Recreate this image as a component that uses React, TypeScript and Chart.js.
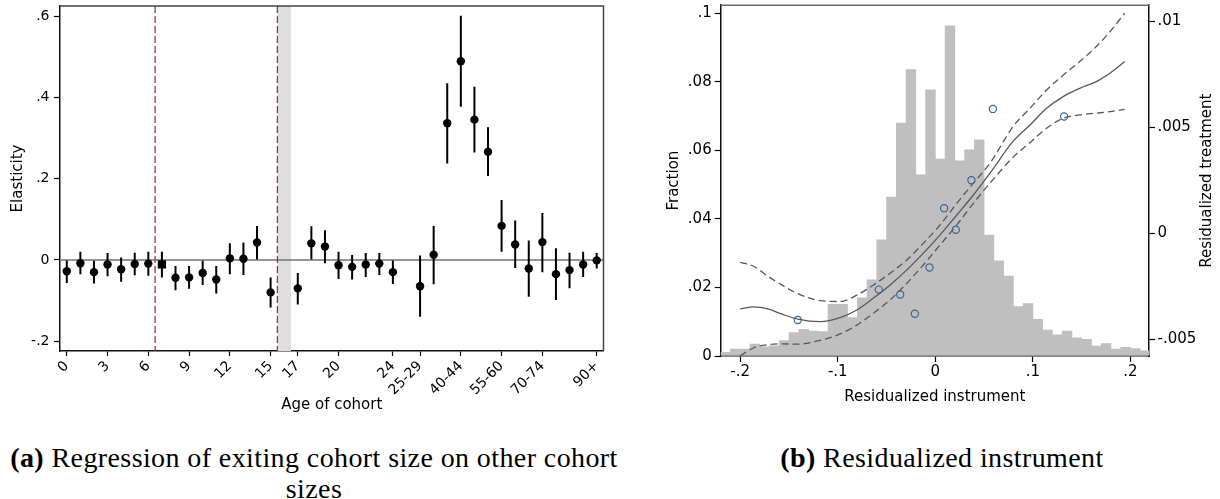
import { useEffect, useRef } from "react"
import { Chart, registerables } from "chart.js"

Chart.register(...registerables)

Chart.defaults.font.family = "'DejaVu Sans', sans-serif"
Chart.defaults.color = "#000"

// ---------- panel (a): elasticity by age of cohort ----------
// x position of each estimate (16 = exiting cohort, 25 = spacer between ages and age groups)
const cohortPos = [
  0, 1, 2, 3, 4, 5, 6, 7, 8, 9, 10, 11, 12, 13, 14, 15,
  17, 18, 19, 20, 21, 22, 23, 24,
  26, 27, 28, 29, 30, 31, 32, 33, 34, 35, 36, 37, 38, 39,
]
const elasticity = [
  -0.028, -0.008, -0.03, -0.011, -0.023, -0.01, -0.009, -0.011, -0.044, -0.043, -0.032, -0.048, 0.004, 0.003, 0.043, -0.08,
  -0.07, 0.041, 0.033, -0.013, -0.017, -0.011, -0.009, -0.03,
  -0.065, 0.013, 0.337, 0.49, 0.346, 0.267, 0.084, 0.038, -0.021, 0.044, -0.035, -0.025, -0.011, -0.001,
]
const ciLow = [
  -0.057, -0.035, -0.058, -0.04, -0.054, -0.038, -0.039, -0.043, -0.075, -0.071, -0.062, -0.083, -0.035, -0.037, 0.001, -0.117,
  -0.11, 0.0, -0.008, -0.047, -0.048, -0.042, -0.037, -0.059,
  -0.14, -0.06, 0.238, 0.378, 0.265, 0.207, 0.02, -0.02, -0.091, -0.03, -0.099, -0.07, -0.042, -0.021,
]
const ciHigh = [
  0.0, 0.02, -0.002, 0.017, 0.006, 0.018, 0.02, 0.02, -0.015, -0.015, -0.002, -0.015, 0.041, 0.043, 0.084, -0.043,
  -0.032, 0.083, 0.073, 0.02, 0.012, 0.017, 0.017, 0.0,
  0.011, 0.084, 0.436, 0.602, 0.427, 0.327, 0.148, 0.097, 0.048, 0.116, 0.029, 0.018, 0.02, 0.017,
]
const baseCohort = 7 // drawn as a square
const ageTickPos = [0, 3, 6, 9, 12, 15, 17, 20, 24, 26, 29, 32, 35, 39]
const ageTickText = ["0", "3", "6", "9", "12", "15", "17", "20", "24", "25-29", "40-44", "55-60", "70-74", "90+"]
const elasticityTicks = [-0.2, 0, 0.2, 0.4, 0.6]
const dashedAt = [6.5, 15.5]
const shadeFrom = 15.5
const shadeTo = 16.5

// ---------- panel (b): residualized instrument ----------
const binCenters = [
  -0.215, -0.205, -0.195, -0.185, -0.175, -0.165, -0.155, -0.145, -0.135, -0.125, -0.115,
  -0.105, -0.095, -0.085, -0.075, -0.065, -0.055, -0.045, -0.035, -0.025, -0.015, -0.005,
  0.005, 0.015, 0.025, 0.035, 0.045, 0.055, 0.065, 0.075, 0.085, 0.095, 0.105,
  0.115, 0.125, 0.135, 0.145, 0.155, 0.165, 0.175, 0.185, 0.195, 0.205, 0.215,
]
const fraction = [
  0.0011, 0.002, 0.002, 0.0035, 0.0027, 0.003, 0.0045, 0.0068, 0.0078, 0.0073, 0.0071,
  0.0151, 0.0151, 0.0112, 0.017, 0.0222, 0.0339, 0.0464, 0.068, 0.0836, 0.0529, 0.0777,
  0.0575, 0.0964, 0.057, 0.0602, 0.0631, 0.0353, 0.0278, 0.0233, 0.0144, 0.0153, 0.0107,
  0.0076, 0.0062, 0.0073, 0.0053, 0.0049, 0.0029, 0.0036, 0.002, 0.0025, 0.0022, 0.0015,
]
const binnedX = [-0.141, -0.058, -0.036, -0.021, -0.006, 0.009, 0.021, 0.037, 0.059, 0.132]
const binnedY = [-0.00409, -0.00266, -0.00289, -0.0038, -0.00162, 0.00118, 0.00016, 0.0025, 0.00586, 0.0055]
const fitX = [
  -0.2, -0.186, -0.171, -0.157, -0.141, -0.118, -0.0975, -0.08, -0.0634, -0.0463, -0.0292, -0.0122,
  0.0049, 0.022, 0.039, 0.056, 0.08, 0.097, 0.114, 0.131, 0.148, 0.165, 0.179, 0.194,
]
const fitMid = [
  -0.00357, -0.00347, -0.00358, -0.00382, -0.00405, -0.00417, -0.00398, -0.00361, -0.00306, -0.00244, -0.00173, -0.00094,
  -0.00008, 0.00086, 0.0018, 0.00283, 0.00435, 0.0051, 0.00589, 0.00644, 0.00683, 0.00715, 0.00754, 0.00809,
]
const fitHigh = [
  -0.00137, -0.00157, -0.00205, -0.00245, -0.00285, -0.00318, -0.00322, -0.00291, -0.00244, -0.00189, -0.00126, -0.00047,
  0.00039, 0.00141, 0.00236, 0.0033, 0.00505, 0.00589, 0.00675, 0.00745, 0.00809, 0.0088, 0.0095, 0.01037,
]
const fitLow = [
  -0.00578, -0.0054, -0.00525, -0.00522, -0.00523, -0.00505, -0.00475, -0.00432, -0.00377, -0.00314, -0.00236, -0.00149,
  -0.00055, 0.00039, 0.00141, 0.00236, 0.0036, 0.00427, 0.00495, 0.00542, 0.00558, 0.00566, 0.00573, 0.00584,
]
const instrumentTicks = [-0.2, -0.1, 0, 0.1, 0.2]
const fractionTicks = [0, 0.02, 0.04, 0.06, 0.08, 0.1]
const treatmentTicks = [-0.005, 0, 0.005, 0.01]

// Stata style labels: ".2", "-.005"
const fmt = (v: number) => String(+v.toFixed(4)).replace(/^(-?)0\./, "$1.")

const tickGrid = (len: number) => ({
  drawOnChartArea: false,
  drawTicks: true,
  tickLength: len,
  tickColor: "#000",
  tickWidth: 1.2,
})
const axisBorder = { display: true, color: "#111", width: 1.5 }

function CohortChart() {
  const chartRef = useRef<HTMLCanvasElement>(null)
  const chartInstance = useRef<Chart | null>(null)

  useEffect(() => {
    const ctx = chartRef.current?.getContext("2d")
    if (!ctx) return
    if (chartInstance.current) chartInstance.current.destroy()

    const guides = {
      id: "cohortGuides",
      beforeDatasetsDraw(chart: any) {
        const { ctx: c, chartArea: a, scales } = chart
        const x = scales.x
        const y = scales.y
        c.save()
        const b0 = x.getPixelForValue(shadeFrom)
        const b1 = x.getPixelForValue(shadeTo)
        c.fillStyle = "#dedede"
        c.fillRect(b0, a.top, b1 - b0, a.bottom - a.top)
        const y0 = y.getPixelForValue(0)
        c.strokeStyle = "#737373"
        c.lineWidth = 1.5
        c.beginPath()
        c.moveTo(a.left, y0)
        c.lineTo(a.right, y0)
        c.stroke()
        c.strokeStyle = "#9e3447"
        c.lineWidth = 1.3
        c.setLineDash([7, 3])
        dashedAt.forEach((v) => {
          const px = x.getPixelForValue(v)
          c.beginPath()
          c.moveTo(px, a.top)
          c.lineTo(px, a.bottom)
          c.stroke()
        })
        c.restore()
      },
      afterDraw(chart: any) {
        const { ctx: c, chartArea: a } = chart
        c.save()
        c.strokeStyle = "#444"
        c.lineWidth = 1.5
        c.beginPath()
        c.moveTo(a.left, a.top)
        c.lineTo(a.right, a.top)
        c.lineTo(a.right, a.bottom)
        c.stroke()
        c.restore()
      },
    }

    chartInstance.current = new Chart(ctx, {
      type: "bar",
      data: {
        datasets: [
          {
            type: "scatter",
            data: cohortPos.map((x, i) => ({ x, y: elasticity[i] })),
            backgroundColor: "#000",
            borderWidth: 0,
            pointStyle: cohortPos.map((x) => (x === baseCohort ? "rect" : "circle")),
            pointRadius: cohortPos.map((x) => (x === baseCohort ? 5.9 : 4.2)),
            order: 0,
          } as any,
          {
            type: "bar",
            data: cohortPos.map((x, i) => ({ x, y: [ciLow[i], ciHigh[i]] })),
            backgroundColor: "#000",
            barThickness: 2,
            grouped: false,
            inflateAmount: 0,
            order: 1,
          } as any,
        ],
      },
      options: {
        animation: false,
        responsive: true,
        maintainAspectRatio: false,
        layout: { padding: { left: 0, top: 5, right: 16.5, bottom: 0 } },
        plugins: { legend: { display: false }, tooltip: { enabled: false } },
        scales: {
          x: {
            type: "linear",
            min: -0.5,
            max: 39.5,
            offset: false,
            grid: { ...tickGrid(5), offset: false },
            border: axisBorder,
            afterBuildTicks: (axis: any) => {
              axis.ticks = ageTickPos.map((v) => ({ value: v }))
            },
            afterFit: (axis: any) => {
              axis.height = 69
              axis.paddingLeft = 0
              axis.paddingRight = 0
            },
            ticks: {
              autoSkip: false,
              minRotation: 45,
              maxRotation: 45,
              padding: 2,
              font: { size: 14 },
              callback: (v: any) => ageTickText[ageTickPos.indexOf(Number(v))] ?? "",
            },
            title: {
              display: true,
              text: "Age of cohort",
              font: { size: 15 },
              padding: { top: 0, bottom: 6 },
            },
          },
          y: {
            type: "linear",
            min: -0.2245,
            max: 0.6265,
            grid: tickGrid(6),
            border: axisBorder,
            afterBuildTicks: (axis: any) => {
              axis.ticks = elasticityTicks.map((v) => ({ value: v }))
            },
            afterFit: (axis: any) => {
              axis.width = 60
              axis.paddingTop = 0
              axis.paddingBottom = 0
            },
            ticks: { padding: 4.5, font: { size: 14 }, callback: (v: any) => fmt(Number(v)) },
            title: {
              display: true,
              text: "Elasticity",
              font: { size: 15 },
              padding: { top: 9, bottom: 0 },
            },
          },
        },
      } as any,
      plugins: [guides],
    })

    return () => {
      if (chartInstance.current) {
        chartInstance.current.destroy()
        chartInstance.current = null
      }
    }
  }, [])

  return (
    <div style={{ position: "absolute", left: 0, top: 0, width: 620, height: 420 }}>
      <canvas ref={chartRef} />
    </div>
  )
}

function InstrumentChart() {
  const chartRef = useRef<HTMLCanvasElement>(null)
  const chartInstance = useRef<Chart | null>(null)

  useEffect(() => {
    const ctx = chartRef.current?.getContext("2d")
    if (!ctx) return
    if (chartInstance.current) chartInstance.current.destroy()

    const frame = {
      id: "instrumentFrame",
      afterDraw(chart: any) {
        const { ctx: c, chartArea: a } = chart
        c.save()
        c.strokeStyle = "#6a6a6a"
        c.lineWidth = 1.5
        c.beginPath()
        c.moveTo(a.left, a.top)
        c.lineTo(a.right, a.top)
        c.stroke()
        // right-hand axis title, reading bottom to top
        c.translate(586.7, (a.top + a.bottom) / 2)
        c.rotate(-Math.PI / 2)
        c.fillStyle = "#000"
        c.font = "15px 'DejaVu Sans'"
        c.textAlign = "center"
        c.textBaseline = "middle"
        c.fillText("Residualized treatment", 0, 0)
        c.restore()
      },
    }

    const fitLine = (vals: number[], dashed: boolean) => ({
      type: "line",
      yAxisID: "y1",
      data: fitX.map((x, i) => ({ x, y: vals[i] })),
      borderColor: "#585858",
      borderWidth: 1.3,
      borderDash: dashed ? [7, 4] : [],
      pointRadius: 0,
      cubicInterpolationMode: "monotone",
      fill: false,
      order: 1,
    })

    chartInstance.current = new Chart(ctx, {
      type: "bar",
      data: {
        datasets: [
          {
            type: "scatter",
            yAxisID: "y1",
            data: binnedX.map((x, i) => ({ x, y: binnedY[i] })),
            backgroundColor: "rgba(0,0,0,0)",
            borderColor: "#35679a",
            borderWidth: 1.2,
            pointRadius: 3.6,
            order: 0,
          } as any,
          fitLine(fitMid, false) as any,
          fitLine(fitHigh, true) as any,
          fitLine(fitLow, true) as any,
          {
            type: "bar",
            yAxisID: "y",
            data: binCenters.map((x, i) => ({ x, y: fraction[i] })),
            backgroundColor: "#bfbfbf",
            borderWidth: 0,
            barPercentage: 1,
            categoryPercentage: 1,
            order: 2,
          } as any,
        ],
      },
      options: {
        animation: false,
        responsive: true,
        maintainAspectRatio: false,
        layout: { padding: { left: 0, top: 5, right: 0, bottom: 0 } },
        plugins: { legend: { display: false }, tooltip: { enabled: false } },
        scales: {
          x: {
            type: "linear",
            min: -0.22,
            max: 0.219,
            offset: false,
            grid: { ...tickGrid(6), offset: false },
            border: axisBorder,
            afterBuildTicks: (axis: any) => {
              axis.ticks = instrumentTicks.map((v) => ({ value: v }))
            },
            afterFit: (axis: any) => {
              axis.height = 54
              axis.paddingLeft = 0
              axis.paddingRight = 0
            },
            ticks: { padding: 1, maxRotation: 0, font: { size: 15 }, callback: (v: any) => fmt(Number(v)) },
            title: {
              display: true,
              text: "Residualized instrument",
              font: { size: 15 },
              padding: { top: 0, bottom: 4 },
            },
          },
          y: {
            type: "linear",
            position: "left",
            min: 0,
            max: 0.1024,
            grid: tickGrid(6),
            border: axisBorder,
            afterBuildTicks: (axis: any) => {
              axis.ticks = fractionTicks.map((v) => ({ value: v }))
            },
            afterFit: (axis: any) => {
              axis.width = 100.7
              axis.paddingTop = 0
              axis.paddingBottom = 0
            },
            ticks: { padding: 3, font: { size: 15 }, callback: (v: any) => fmt(Number(v)) },
            title: {
              display: true,
              text: "Fraction",
              font: { size: 15 },
              padding: { top: 45, bottom: 0 },
            },
          },
          y1: {
            type: "linear",
            position: "right",
            min: -0.00579,
            max: 0.01075,
            grid: tickGrid(6),
            border: axisBorder,
            afterBuildTicks: (axis: any) => {
              axis.ticks = treatmentTicks.map((v) => ({ value: v }))
            },
            afterFit: (axis: any) => {
              axis.width = 71
              axis.paddingTop = 0
              axis.paddingBottom = 0
            },
            ticks: { padding: 2.5, font: { size: 15 }, callback: (v: any) => fmt(Number(v)) },
          },
        },
      } as any,
      plugins: [frame],
    })

    return () => {
      if (chartInstance.current) {
        chartInstance.current.destroy()
        chartInstance.current = null
      }
    }
  }, [])

  return (
    <div style={{ position: "absolute", left: 620, top: 0, width: 600, height: 410 }}>
      <canvas ref={chartRef} />
    </div>
  )
}

const captionStyle = {
  position: "absolute" as const,
  fontFamily: "'Liberation Serif', serif",
  fontSize: 28,
  lineHeight: "31px",
  letterSpacing: "0.4px",
  color: "#000",
  textAlign: "center" as const,
  whiteSpace: "nowrap" as const,
}

export default function App() {
  return (
    <div
      style={{
        position: "absolute",
        left: 0,
        top: 0,
        width: 1220,
        height: 499,
        overflow: "hidden",
        background: "#fff",
      }}
    >
      <CohortChart />
      <InstrumentChart />
      <div style={{ ...captionStyle, left: 0, top: 442, width: 628 }}>
        <b>(a)</b> Regression of exiting cohort size on other cohort
        <br />
        sizes
      </div>
      <div style={{ ...captionStyle, left: 742, top: 442, width: 400 }}>
        <b>(b)</b> Residualized instrument
      </div>
    </div>
  )
}
